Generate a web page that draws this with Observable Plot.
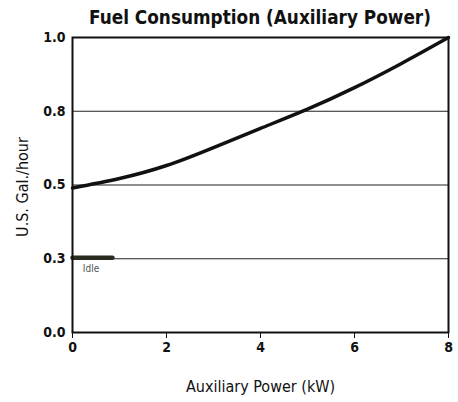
<!DOCTYPE html>
<html>
<head>
<meta charset="utf-8">
<script src="https://cdn.jsdelivr.net/npm/d3@7"></script>
<script src="https://cdn.jsdelivr.net/npm/@observablehq/plot@0.6"></script>
<style>
  html, body { margin: 0; padding: 0; background: #fff; }
  #title {
    margin-left: 72px; width: 376px; height: 30px; line-height: 35px;
    text-align: center; font-weight: bold; font-size: 18.8px; color: #111;
    font-family: "Liberation Sans Narrow", "DejaVu Sans Condensed", "Roboto", sans-serif;
    white-space: nowrap;
  }
</style>
</head>
<body>
<div id="title">Fuel Consumption (Auxiliary Power)</div>
<div id="chart"></div>
<script>
const powerKW = [0, 1, 2, 3, 4, 5, 6, 7, 8];
const galPerHour = [0.49, 0.522, 0.566, 0.627, 0.692, 0.757, 0.83, 0.912, 1.0];
const idleX = [0, 0.85];
const idleY = [0.25, 0.25];
const idleLabel = "Idle";
const gridY = [0.25, 0.5, 0.75];
const yTicks = [0, 0.25, 0.5, 0.75, 1.0];
const yTickLabels = ["0.0", "0.3", "0.5", "0.8", "1.0"];
const xTicks = [0, 2, 4, 6, 8];
const xLabel = "Auxiliary Power (kW)";
const yLabel = "U.S. Gal./hour";

const curve = powerKW.map((x, i) => ({x, y: galPerHour[i]}));
const idle = idleX.map((x, i) => ({x, y: idleY[i]}));
const font = '"Liberation Sans Narrow", "DejaVu Sans Condensed", Roboto, sans-serif';

const chart = Plot.plot({
  width: 458,
  height: 372,
  marginTop: 7,
  marginBottom: 70,
  marginLeft: 72,
  marginRight: 10,
  style: {fontFamily: font, fontSize: "14px", background: "#fff", color: "#111"},
  x: {domain: [0, 8]},
  y: {domain: [0, 1]},
  marks: [
    Plot.ruleY(gridY, {stroke: "#222", strokeWidth: 1.2}),
    Plot.line(idle, {x: "x", y: "y", stroke: "#2b2b1f", strokeWidth: 4.5, dy: -1}),
    Plot.text([idleLabel], {x: 0.22, y: 0.215, text: d => d, textAnchor: "start", fontSize: 10, fill: "#555"}),
    Plot.line(curve, {x: "x", y: "y", curve: "natural", stroke: "#111", strokeWidth: 3.5}),
    Plot.frame({stroke: "#111", strokeWidth: 2}),
    Plot.axisX({ticks: xTicks, tickSize: 6, tickPadding: 4, tickFormat: d => String(d), fontWeight: "bold", fontSize: 14, label: null}),
    Plot.axisY({ticks: yTicks, tickFormat: d => yTickLabels[yTicks.indexOf(d)], tickSize: 0, tickPadding: 7, fontWeight: "bold", fontSize: 14, label: null}),
    Plot.text([xLabel], {frameAnchor: "bottom", dy: 54, lineAnchor: "middle", textAnchor: "middle", text: d => d, fontSize: 16, fill: "#111"}),
    Plot.text([yLabel], {frameAnchor: "left", dx: -50, dy: 2, rotate: -90, lineAnchor: "middle", textAnchor: "middle", text: d => d, fontSize: 16, fill: "#111"})
  ]
});
document.getElementById("chart").appendChild(chart);
</script>
</body>
</html>
